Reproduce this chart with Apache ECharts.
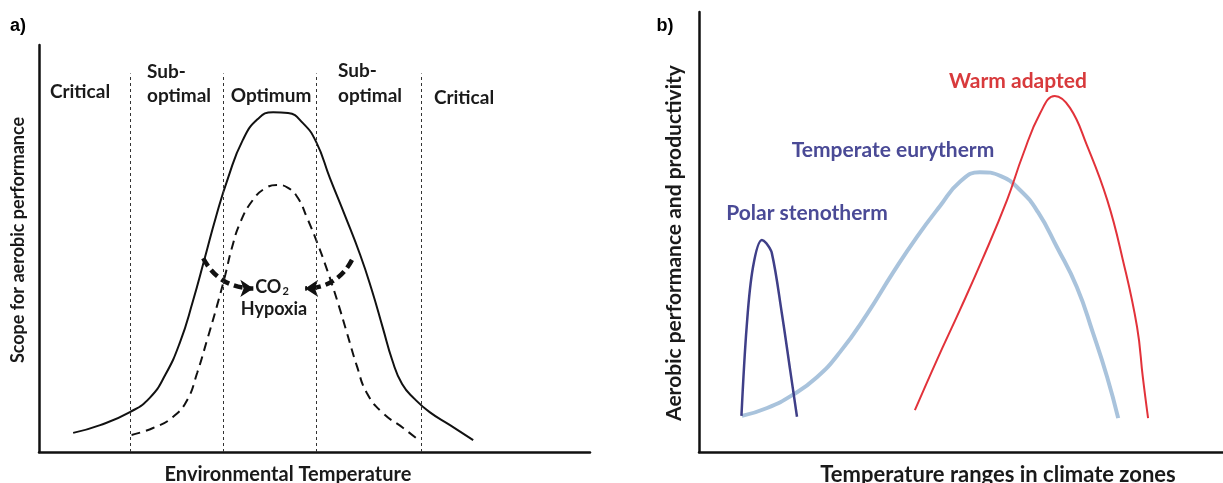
<!DOCTYPE html>
<html>
<head>
<meta charset="utf-8">
<script src="https://cdn.jsdelivr.net/npm/echarts@6/dist/echarts.min.js"></script>
<style>
html,body{margin:0;padding:0;background:#fff;}
#chart{width:1223px;height:483px;}
</style>
</head>
<body>
<div id="chart"></div>
<script>
// ---- Panel a) data (x: environmental temperature 0-100, y: scope 0-100) ----
const solidCurve = [
  [6.2,4.7],[11.1,6.6],[16.5,9.8],[20.1,13.3],[22.9,18.9],[25.6,27.0],[27.9,36.9],
  [30.1,47.7],[32.1,57.7],[34.3,67.3],[37.0,76.7],[39.7,81.8],[42.5,83.5],[45.2,83.3],
  [47.9,80.8],[50.3,76.2],[52.8,67.3],[55.5,58.2],[58.3,48.4],[60.4,39.8],[62.4,30.5],
  [64.1,22.6],[65.9,16.7],[68.2,13.0],[70.9,9.8],[74.6,6.6],[78.8,2.9]
];
const dashedCurve = [
  [16.8,4.2],[20.7,5.9],[24.3,8.6],[26.9,12.8],[28.7,19.4],[30.5,27.5],[32.3,35.9],
  [33.8,43.5],[35.0,50.1],[36.5,56.3],[38.8,61.9],[41.2,64.9],[43.2,65.6],[45.2,64.9],
  [47.0,62.4],[48.6,57.7],[50.5,51.4],[52.3,44.7],[54.1,37.3],[55.9,29.2],[57.7,21.1],
  [59.5,14.5],[62.4,9.6],[66.1,5.9],[69.1,2.7]
];
const zoneBounds = [16.6, 33.4, 50.3, 69.3];
const zoneTop = 93;
const arrowLeft = [[29.8,47.6],[38.9,40.2]];
const arrowRight = [[56.8,47.2],[48.3,40.2]];

// ---- Panel b) data (x: temperature range 0-100, y: performance 0-100) ----
const polarStenotherm = [
  [8.1,8.2],[9.1,28.5],[10.3,42.0],[12.0,48.2],[12.8,47.5],[13.9,45.2],[15.8,31.6],
  [17.4,18.6],[18.7,8.0]
];
const temperateEurytherm = [
  [8.2,8.2],[13.0,10.0],[17.9,13.0],[22.5,17.0],[26.9,22.7],[32.1,31.4],[37.0,40.7],
  [41.6,48.9],[46.0,55.9],[49.8,61.4],[53.6,63.6],[57.6,62.7],[61.3,59.5],[64.7,54.5],
  [68.3,46.6],[72.1,37.5],[75.2,27.0],[77.9,17.0],[80.0,7.7]
];
const warmAdapted = [
  [41.2,9.5],[45.4,20.9],[49.8,32.3],[54.2,44.1],[58.8,57.3],[61.8,67.5],[65.1,77.0],
  [67.9,80.9],[70.8,78.2],[74.0,69.8],[77.9,57.3],[80.9,43.6],[83.6,28.4],[84.7,17.0],
  [85.7,7.7]
];

const FONT = 'Lato';
const chart = echarts.init(document.getElementById('chart'), null, {renderer:'canvas'});

function axisCommon(){
  return {
    type:'value', min:0, max:100,
    axisLine:{show:true, onZero:false, lineStyle:{color:'#111', width:2.5}},
    axisTick:{show:false}, axisLabel:{show:false}, splitLine:{show:false}
  };
}

const dividerLines = zoneBounds.map(x => [{coord:[x,0]},{coord:[x,zoneTop]}]);

const txt = (x,y,text,opts) => ({
  type:'text', x:x, y:y,
  style:Object.assign({text:text, fill:'#1a1a1a', font:'bold 19px ' + FONT, align:'center', verticalAlign:'middle'}, opts||{})
});

const option = {
  animation:false,
  backgroundColor:'#fff',
  grid:[
    {left:39, top:45, width:551, height:407},
    {left:699, top:12, right:0, height:440}
  ],
  xAxis:[Object.assign(axisCommon(),{gridIndex:0}), Object.assign(axisCommon(),{gridIndex:1})],
  yAxis:[Object.assign(axisCommon(),{gridIndex:0}), Object.assign(axisCommon(),{gridIndex:1})],
  series:[
    {
      type:'line', xAxisIndex:0, yAxisIndex:0, data:solidCurve, smooth:0.5, showSymbol:false,
      lineStyle:{color:'#111', width:2},
      markLine:{
        silent:true, symbol:['none','none'], label:{show:false},
        lineStyle:{color:'#333', width:1, type:[3,3]},
        data:dividerLines
      }
    },
    {
      type:'line', xAxisIndex:0, yAxisIndex:0, data:dashedCurve, smooth:0.5, showSymbol:false,
      lineStyle:{color:'#111', width:2, type:[9,6]}
    },
    {
      type:'lines', coordinateSystem:'cartesian2d', xAxisIndex:0, yAxisIndex:0,
      symbol:['none','arrow'], symbolSize:13,
      lineStyle:{color:'#111', width:4.5, type:[9,5], opacity:1},
      data:[
        {coords:arrowLeft, lineStyle:{curveness:-0.3}},
        {coords:arrowRight, lineStyle:{curveness:0.3}}
      ]
    },
    {
      type:'line', xAxisIndex:1, yAxisIndex:1, data:temperateEurytherm, smooth:0.5, showSymbol:false,
      lineStyle:{color:'#a9c3dc', width:4}
    },
    {
      type:'line', xAxisIndex:1, yAxisIndex:1, data:polarStenotherm, smooth:0.35, showSymbol:false,
      lineStyle:{color:'#3f3f88', width:2.5}
    },
    {
      type:'line', xAxisIndex:1, yAxisIndex:1, data:warmAdapted, smooth:0.45, showSymbol:false,
      lineStyle:{color:'#e2323a', width:2}
    }
  ],
  graphic:[
    txt(18,26,'a)',{font:'bold 18px "Liberation Sans"', fill:'#000'}),
    txt(665,26,'b)',{font:'bold 18px "Liberation Sans"', fill:'#000'}),
    // panel a zone labels
    txt(80,92,'Critical'),
    txt(147,72,'Sub-',{align:'left'}),
    txt(147,96,'optimal',{align:'left'}),
    txt(271,96,'Optimum'),
    txt(338,71,'Sub-',{align:'left'}),
    txt(338,96,'optimal',{align:'left'}),
    txt(464,98,'Critical'),
    // CO2 / Hypoxia
    {type:'text', x:272, y:287, style:{
      text:'{a|CO}{b|2}', align:'center', verticalAlign:'middle',
      rich:{a:{font:'bold 18px ' + FONT, fill:'#1a1a1a'}, b:{font:'bold 11px ' + FONT, fill:'#1a1a1a', padding:[9,0,0,1]}}
    }},
    txt(274,309,'Hypoxia',{font:'bold 18px ' + FONT}),
    // axis titles
    txt(288,475,'Environmental Temperature',{font:'bold 20px ' + FONT}),
    {type:'text', x:18, y:240, rotation:Math.PI/2, style:{text:'Scope for aerobic performance', font:'bold 18px ' + FONT, fill:'#1a1a1a', align:'center', verticalAlign:'middle'}},
    txt(998,475,'Temperature ranges in climate zones',{font:'bold 22px ' + FONT}),
    {type:'text', x:674, y:243, rotation:Math.PI/2, style:{text:'Aerobic performance and productivity', font:'bold 21px ' + FONT, fill:'#1a1a1a', align:'center', verticalAlign:'middle'}},
    // panel b labels
    txt(807,213,'Polar stenotherm',{fill:'#4a4a96', font:'bold 21px ' + FONT}),
    txt(893,150,'Temperate eurytherm',{fill:'#4a4a96', font:'bold 21px ' + FONT}),
    txt(1018,81,'Warm adapted',{fill:'#d83a3c', font:'bold 21px ' + FONT})
  ]
};
chart.setOption(option);
</script>
</body>
</html>
